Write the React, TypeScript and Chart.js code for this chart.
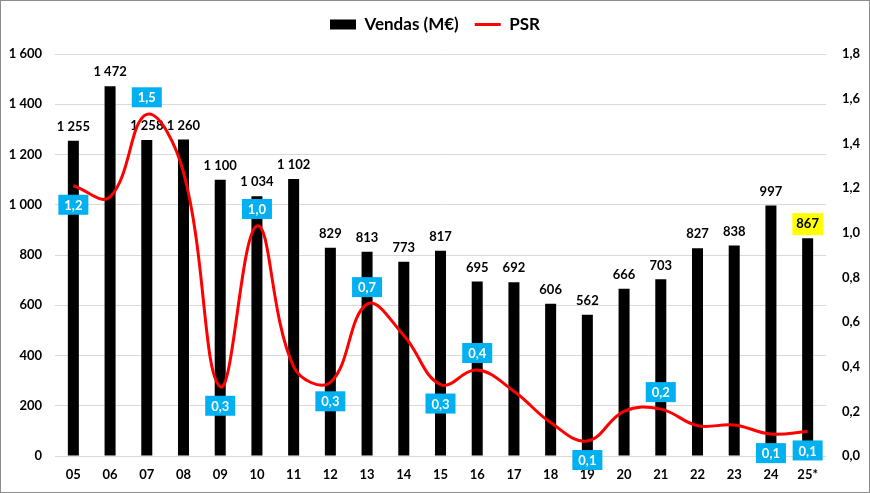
import { useEffect, useRef } from 'react';
import Chart from 'chart.js/auto';

const years = ['05', '06', '07', '08', '09', '10', '11', '12', '13', '14', '15', '16', '17', '18', '19', '20', '21', '22', '23', '24', '25*'];
const vendas = [1255, 1472, 1258, 1260, 1100, 1034, 1102, 829, 813, 773, 817, 695, 692, 606, 562, 666, 703, 827, 838, 997, 867];
const psr = [1.21, 1.16, 1.53, 1.27, 0.31, 1.03, 0.4, 0.33, 0.68, 0.54, 0.32, 0.385, 0.29, 0.15, 0.067, 0.2, 0.21, 0.136, 0.139, 0.098, 0.11];
const psrLabels = ['1,2', null, '1,5', null, '0,3', '1,0', null, '0,3', '0,7', null, '0,3', '0,4', null, null, '0,1', null, '0,2', null, null, '0,1', '0,1'];
// which PSR labels sit above the line
const psrAbove = [2, 5, 8, 11, 16];
const highlightIndex = 20;

const FONT = 'Lato, "Noto Sans", sans-serif';

function fmtThousands(n: number) {
  if (n < 1000) return String(n);
  return Math.floor(n / 1000) + ' ' + String(n % 1000).padStart(3, '0');
}

const legendHeight = {
  id: 'legendHeight',
  beforeInit(chart: any) {
    const legend = chart.legend;
    if (!legend) return;
    const fit = legend.fit;
    legend.fit = function () {
      fit.call(this);
      this.height = 54;
    };
  }
};

const labelsPlugin = {
  id: 'labelsPlugin',
  afterDatasetDraw(chart: any, args: any) {
    if (args.index !== 0) return;
    const ctx = chart.ctx;
    const meta = chart.getDatasetMeta(0);
    ctx.save();
    ctx.font = 'bold 13px ' + FONT;
    ctx.textAlign = 'center';
    ctx.textBaseline = 'middle';
    meta.data.forEach((bar: any, i: number) => {
      const text = fmtThousands(vendas[i]);
      const y = bar.y - 14;
      if (i === highlightIndex) {
        const w = ctx.measureText(text).width + 8;
        ctx.fillStyle = '#FFFF00';
        ctx.fillRect(bar.x - w / 2, y - 11, w, 22);
      }
      ctx.fillStyle = '#000';
      ctx.fillText(text, bar.x, y);
    });
    ctx.restore();
  },
  afterDatasetsDraw(chart: any) {
    const ctx = chart.ctx;
    const meta = chart.getDatasetMeta(1);
    ctx.save();
    ctx.font = 'bold 13px ' + FONT;
    ctx.textAlign = 'center';
    ctx.textBaseline = 'middle';
    meta.data.forEach((pt: any, i: number) => {
      const text = psrLabels[i];
      if (!text) return;
      const cy = psrAbove.includes(i) ? pt.y - 17 : pt.y + 19;
      ctx.fillStyle = '#00B0F0';
      ctx.fillRect(pt.x - 15, cy - 10, 30, 20);
      ctx.fillStyle = '#FFFFFF';
      ctx.fillText(text, pt.x, cy + 1);
    });
    ctx.restore();
  }
};

export default function App() {
  const canvasRef = useRef<HTMLCanvasElement | null>(null);

  useEffect(() => {
    if (!canvasRef.current) return;
    const chart = new Chart(canvasRef.current, {
      type: 'bar',
      data: {
        labels: years,
        datasets: [
          {
            type: 'bar',
            label: 'Vendas (M€)',
            data: vendas,
            backgroundColor: '#000000',
            borderWidth: 0,
            barPercentage: 0.3,
            categoryPercentage: 1,
            yAxisID: 'y',
            order: 1
          },
          {
            type: 'line',
            label: 'PSR',
            data: psr,
            borderColor: '#FF0000',
            backgroundColor: '#FF0000',
            borderWidth: 3,
            pointRadius: 0,
            tension: 0.4,
            fill: false,
            yAxisID: 'y1',
            order: 0
          }
        ]
      } as any,
      options: {
        animation: false,
        responsive: false,
        layout: { padding: 0 },
        plugins: {
          tooltip: { enabled: false },
          legend: {
            position: 'top',
            labels: {
              usePointStyle: true,
              pointStyleWidth: 26,
              boxHeight: 10,
              padding: 16,
              color: '#000',
              font: { family: FONT, size: 17, weight: 'bold' },
              sort: (a: any, b: any) => a.datasetIndex - b.datasetIndex,
              generateLabels: (c: any) => {
                const items = Chart.defaults.plugins.legend.labels.generateLabels(c);
                items.forEach((it: any) => {
                  if (it.datasetIndex === 0) {
                    it.pointStyle = 'rect';
                    it.fillStyle = '#000000';
                    it.lineWidth = 0;
                  } else {
                    it.pointStyle = 'line';
                    it.strokeStyle = '#FF0000';
                    it.lineWidth = 3;
                  }
                });
                return items;
              }
            }
          }
        },
        scales: {
          x: {
            grid: { display: false, drawTicks: false },
            border: { display: false },
            ticks: {
              padding: 11,
              color: '#000',
              font: { family: FONT, size: 13, weight: 'bold' }
            },
            afterFit: (s: any) => { s.height = 37; }
          },
          y: {
            position: 'left',
            min: 0,
            max: 1600,
            grid: { color: '#D9D9D9', drawTicks: false },
            border: { display: false },
            ticks: {
              stepSize: 200,
              padding: 13,
              color: '#000',
              font: { family: FONT, size: 13, weight: 'bold' },
              callback: (v: any) => fmtThousands(Number(v))
            },
            afterFit: (s: any) => { s.width = 55; }
          },
          y1: {
            position: 'right',
            min: 0,
            max: 1.8,
            grid: { display: false, drawTicks: false },
            border: { display: false },
            ticks: {
              stepSize: 0.2,
              padding: 16,
              color: '#000',
              font: { family: FONT, size: 13, weight: 'bold' },
              callback: (v: any) => Number(v).toFixed(1).replace('.', ',')
            },
            afterFit: (s: any) => { s.width = 44; }
          }
        }
      } as any,
      plugins: [legendHeight, labelsPlugin]
    });
    return () => chart.destroy();
  }, []);

  return (
    <div style={{ position: 'fixed', left: 0, top: 0, width: 870, height: 493, background: '#fff' }}>
      <canvas
        ref={canvasRef}
        width={870}
        height={493}
        style={{ width: 870, height: 493, outline: '1px solid #8C8C8C', outlineOffset: -1 }}
      ></canvas>
    </div>
  );
}
